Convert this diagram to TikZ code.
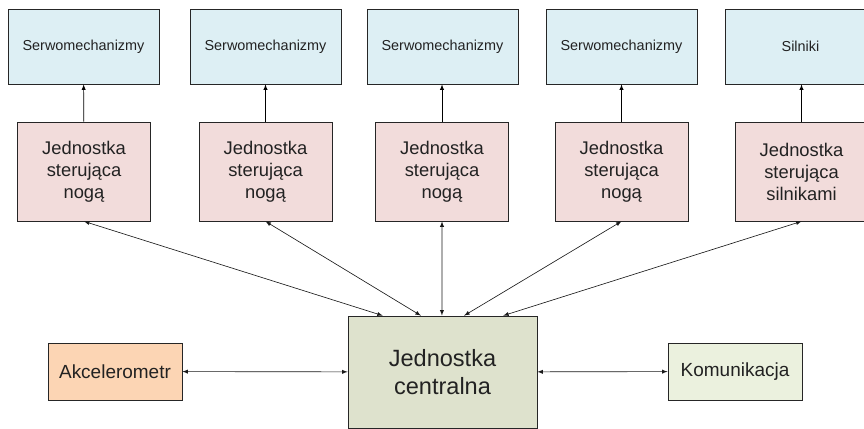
\documentclass[tikz,border=0pt]{standalone}
\usepackage{fontspec}
\setmainfont{Liberation Sans}
\usepackage{tikz}
\usetikzlibrary{arrows,calc}
\definecolor{servoblue}{HTML}{DDEFF4}
\definecolor{unitpink}{HTML}{F2DCDB}
\definecolor{centralgreen}{HTML}{DEE2CD}
\definecolor{accpeach}{HTML}{FCD5B4}
\definecolor{commgreen}{HTML}{EBF1DE}
\definecolor{txtgray}{HTML}{222222}
\newcommand{\pxu}{0.027778cm}

\begin{document}
\begin{tikzpicture}[x=\pxu, y=-\pxu, >=latex,
  box/.style={draw=black!85, line width=0.6pt, text=txtgray, align=center, inner sep=0pt},
  servobox/.style={box, fill=servoblue, minimum width=151*\pxu, minimum height=75*\pxu,
    font=\fontsize{11.4}{13.7}\selectfont},
  legbox/.style={box, fill=unitpink, minimum width=133*\pxu, minimum height=99*\pxu,
    font=\fontsize{14.5}{17.4}\selectfont},
  sidebox/.style={box, minimum width=134*\pxu, minimum height=57*\pxu,
    font=\fontsize{15}{18}\selectfont},
  link/.style={<->, line width=0.5pt, draw=black!90}]

\useasboundingbox (0,0) rectangle (864,429);
\clip (0,0) rectangle (864,429);

% elementy wykonawcze
\node [servobox] (servo1) at (83.5,46.5) {Serwomechanizmy};
\node [servobox] (servo2) at (265.5,46.5) {Serwomechanizmy};
\node [servobox] (servo3) at (442.5,46.5) {Serwomechanizmy};
\node [servobox] (servo4) at (621.5,46.5) {Serwomechanizmy};
\node [servobox] (motors) at (800.5,46.5) {Silniki};

% jednostki sterujace
\node [legbox] (leg1) at (84,171.5) {Jednostka\\sterująca\\nogą};
\node [legbox] (leg2) at (265.5,171.5) {Jednostka\\sterująca\\nogą};
\node [legbox] (leg3) at (442,171.5) {Jednostka\\sterująca\\nogą};
\node [legbox] (leg4) at (621.5,171.5) {Jednostka\\sterująca\\nogą};
\node [legbox] (motorunit) at (801.5,171.5) {Jednostka\\sterująca\\silnikami};

\node [box, fill=centralgreen, minimum width=189*\pxu, minimum height=112*\pxu,
  font=\fontsize{18.6}{22.3}\selectfont] (central) at (442.5,372) {Jednostka\\centralna};
\node [sidebox, fill=accpeach] (accel) at (115,371.5) {Akcelerometr};
\node [sidebox, fill=commgreen] (comm) at (735,371.5) {Komunikacja};

\coordinate (in1) at ($(central.north west)!0.185!(central.north east)$);
\coordinate (in2) at ($(central.north west)!0.386!(central.north east)$);
\coordinate (in3) at ($(central.north west)!0.497!(central.north east)$);
\coordinate (in4) at ($(central.north west)!0.614!(central.north east)$);
\coordinate (in5) at ($(central.north west)!0.82!(central.north east)$);

\draw [->, line width=0.5pt] (leg1) -- (servo1);
\draw [->, line width=0.5pt] (leg2) -- (servo2);
\draw [->, line width=0.5pt] (leg3.north) -- (servo3.south -| leg3.north);
\draw [->, line width=0.5pt] (leg4) -- (servo4);
\draw [->, line width=0.5pt] (motorunit.north) -- (motors.south -| motorunit.north);

\draw [link] (leg1.south) -- (in1);
\draw [link] (leg2.south) -- (in2);
\draw [link] (leg3.south) -- (in3);
\draw [link] (leg4.south) -- (in4);
\draw [link] (motorunit.south) -- (in5);

\draw [link] (accel) -- (central);
\draw [link] (central) -- (comm);

\end{tikzpicture}
\end{document}
